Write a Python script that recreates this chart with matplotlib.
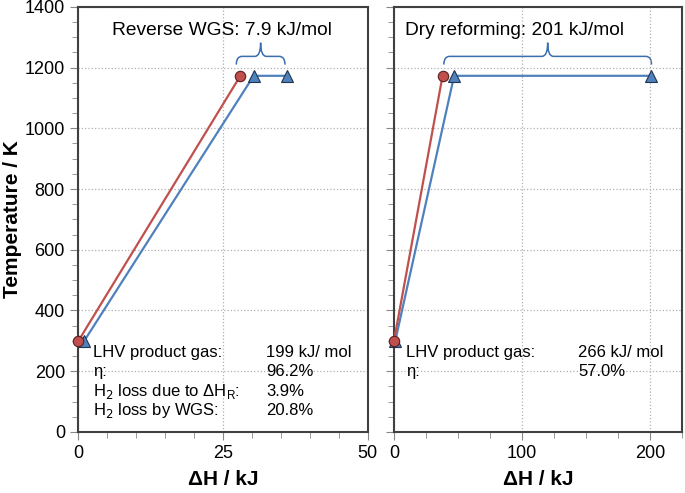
import matplotlib
matplotlib.use("Agg")
import matplotlib.pyplot as plt
from matplotlib.path import Path
from matplotlib.patches import PathPatch
from matplotlib.ticker import MultipleLocator

plt.rcParams['font.family'] = ['Liberation Sans', 'DejaVu Sans']

# left panel: reverse WGS
wgs_red_x = [0, 28.0]
wgs_red_y = [298, 1173]
wgs_blue_x = [1.0, 30.3, 36.0]
wgs_blue_y = [298, 1173, 1173]
wgs_labels = ["LHV product gas:", "η:", "H$_2$ loss due to ΔH$_\\mathregular{R}$:", "H$_2$ loss by WGS:"]
wgs_values = ["199 kJ/ mol", "96.2%", "3.9%", "20.8%"]

# right panel: dry reforming
dry_red_x = [0, 38.0]
dry_red_y = [298, 1173]
dry_blue_x = [1.0, 47.0, 201.0]
dry_blue_y = [298, 1173, 1173]
dry_labels = ["LHV product gas:", "η:"]
dry_values = ["266 kJ/ mol", "57.0%"]

red = '#C0504D'
blue = '#4F81BD'


def brace(ax, x0, x1, r, y0=1210, y1=1237, y2=1282):
    xm = (x0 + x1) / 2
    verts = [(x0, y0), (x0, y1), (x0 + r, y1), (xm - r, y1), (xm, y1), (xm, y2),
             (xm, y1), (xm + r, y1), (x1 - r, y1), (x1, y1), (x1, y0)]
    codes = [Path.MOVETO, Path.CURVE3, Path.CURVE3, Path.LINETO, Path.CURVE3, Path.CURVE3,
             Path.CURVE3, Path.CURVE3, Path.LINETO, Path.CURVE3, Path.CURVE3]
    ax.add_patch(PathPatch(Path(verts, codes), fc='none', ec='#3A6EAE', lw=1.1, clip_on=False))


def panel(ax, rx, ry, bx, by, xmax, major, minor):
    ax.plot(bx, by, color=blue, lw=1.6, marker='^', ms=8, mfc=blue, mec='#1f3550', mew=0.8,
            zorder=3, clip_on=False)
    ax.plot(rx, ry, color=red, lw=1.6, marker='o', ms=7.5, mfc=red, mec='#5a1f1d', mew=0.8,
            zorder=4, clip_on=False)
    ax.set_xlim(0, xmax)
    ax.set_ylim(0, 1400)
    ax.xaxis.set_major_locator(MultipleLocator(major))
    ax.xaxis.set_minor_locator(MultipleLocator(minor))
    ax.yaxis.set_major_locator(MultipleLocator(200))
    ax.yaxis.set_minor_locator(MultipleLocator(50))
    ax.grid(True, which='major', ls=':', color='#b0b0b0', lw=0.9)
    ax.tick_params(which='both', direction='out', color='#888888', labelsize=13)
    ax.tick_params(which='major', length=6)
    ax.tick_params(which='minor', length=4)
    for s in ax.spines.values():
        s.set_color('#404040')
        s.set_linewidth(1.5)
    ax.set_xlabel('ΔH / kJ', fontsize=15, fontweight='bold', labelpad=6)


fig = plt.figure(figsize=(6.85, 4.93), dpi=100)
ax1 = fig.add_axes([0.114, 0.124, 0.423, 0.862])
ax2 = fig.add_axes([0.575, 0.124, 0.421, 0.862])

panel(ax1, wgs_red_x, wgs_red_y, wgs_blue_x, wgs_blue_y, 50, 25, 5)
panel(ax2, dry_red_x, dry_red_y, dry_blue_x, dry_blue_y, 225, 100, 25)
ax2.set_xticks([0, 100, 200])
ax2.tick_params(axis='y', labelleft=False)
ax1.set_ylabel('Temperature / K', fontsize=15, fontweight='bold', labelpad=2)

brace(ax1, 27.3, 35.7, 1.0)
brace(ax2, 39, 201, 4.5)
ax1.text(24.8, 1323, 'Reverse WGS: 7.9 kJ/mol', ha='center', va='center', fontsize=13.8)
ax2.text(94.5, 1323, 'Dry reforming: 201 kJ/mol', ha='center', va='center', fontsize=13.8)

for i, (lab, val) in enumerate(zip(wgs_labels, wgs_values)):
    y = 262 - i * 64
    ax1.text(2.6, y, lab, ha='left', va='center', fontsize=12)
    ax1.text(32.4, y, val, ha='left', va='center', fontsize=12)
for i, (lab, val) in enumerate(zip(dry_labels, dry_values)):
    y = 262 - i * 64
    ax2.text(9.4, y, lab, ha='left', va='center', fontsize=12)
    ax2.text(144, y, val, ha='left', va='center', fontsize=12)

fig.savefig('out.png', dpi=100)
